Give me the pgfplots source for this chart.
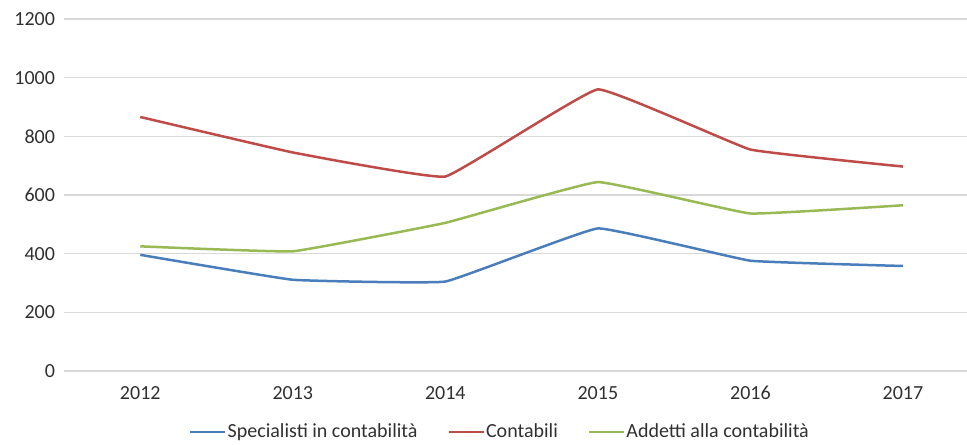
\documentclass[border=0pt]{standalone}
\usepackage{pgfplots}
\pgfplotsset{compat=1.18}
\usepackage{fontspec}
\setmainfont{Carlito}

\definecolor{serblue}{HTML}{4A7EBB}
\definecolor{serred}{HTML}{BE4B48}
\definecolor{sergreen}{HTML}{98B954}
\definecolor{gridgray}{HTML}{D9D9D9}
\definecolor{txtgray}{HTML}{303030}

\begin{document}
\begin{tikzpicture}
\useasboundingbox (0,0) rectangle (483.5pt,222pt);
\begin{axis}[
  at={(32pt,36.5pt)}, anchor=south west,
  scale only axis,
  width=451.5pt, height=176pt,
  xmin=-0.5, xmax=5.42,
  ymin=0, ymax=1200,
  ytick={0,200,...,1200},
  xtick={0,...,5},
  xticklabels={2012,2013,2014,2015,2016,2017},
  axis line style={draw=none},
  major tick length=0pt,
  ymajorgrids,
  grid style={gridgray, line width=0.75pt},
  tick label style={font=\fontsize{10}{11}\selectfont, text=txtgray},
  /pgf/number format/assume math mode=true,
  /pgf/number format/1000 sep={},
  yticklabel style={xshift=-1pt},
  xticklabel style={yshift=-4pt},
  legend columns=3,
  legend style={draw=none, fill=none, at={(0.484,-0.173)}, anchor=center,
    font=\fontsize{10}{11}\selectfont, text=txtgray,
    /tikz/every even column/.append style={column sep=13pt},
    inner sep=0pt},
  legend cell align=left,
  legend image code/.code={\draw[#1] (0pt,0pt) -- (17.5pt,0pt);},
  every axis plot/.append style={line width=1.25pt, smooth, tension=0.15, line join=round},
]
\addplot[serblue] coordinates {(0,396) (1,311) (2,305) (3,486) (4,376) (5,358)};
\addlegendentry{\hspace{-1.5pt}Specialisti in contabilità}
\addplot[serred] coordinates {(0,866) (1,745) (2,663) (3,960) (4,755) (5,697)};
\addlegendentry{\hspace{-1.5pt}Contabili}
\addplot[sergreen] coordinates {(0,425) (1,408) (2,505) (3,644) (4,537) (5,565)};
\addlegendentry{\hspace{-1.5pt}Addetti alla contabilità}
\end{axis}
\end{tikzpicture}
\end{document}
